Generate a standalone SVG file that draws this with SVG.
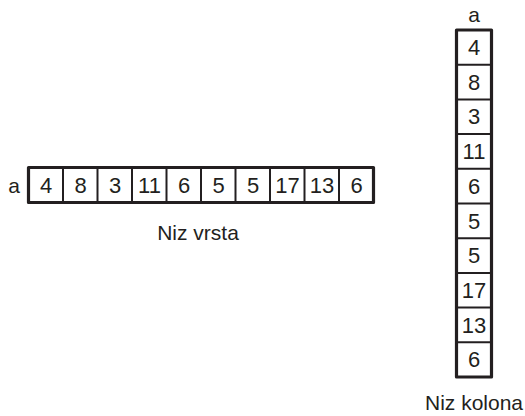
<svg xmlns="http://www.w3.org/2000/svg" width="525" height="416" viewBox="0 0 525 416">
<style>
.t{font-family:"Liberation Sans",Arial,sans-serif;font-size:21px;fill:#231f20;text-anchor:middle}
.n{font-size:22px}
.o{fill:#fff;stroke:#231f20;stroke-width:3.2;stroke-linejoin:round}
.d{stroke:#231f20;stroke-width:2}
</style>
<rect width="525" height="416" fill="#fff"/>
<g id="row">
<rect class="o" x="28.5" y="167.5" width="345" height="35"/>
<g class="d">
<line x1="63" y1="168" x2="63" y2="202"/>
<line x1="97.5" y1="168" x2="97.5" y2="202"/>
<line x1="132" y1="168" x2="132" y2="202"/>
<line x1="166.5" y1="168" x2="166.5" y2="202"/>
<line x1="201" y1="168" x2="201" y2="202"/>
<line x1="235.5" y1="168" x2="235.5" y2="202"/>
<line x1="270" y1="168" x2="270" y2="202"/>
<line x1="304.5" y1="168" x2="304.5" y2="202"/>
<line x1="339" y1="168" x2="339" y2="202"/>
</g>
<text class="t" x="14" y="193">a</text>
<text class="t n" x="46" y="193">4</text>
<text class="t n" x="80.5" y="193">8</text>
<text class="t n" x="115" y="193">3</text>
<text class="t n" x="149.5" y="193">11</text>
<text class="t n" x="184" y="193">6</text>
<text class="t n" x="218.5" y="193">5</text>
<text class="t n" x="253" y="193">5</text>
<text class="t n" x="287.5" y="193">17</text>
<text class="t n" x="322" y="193">13</text>
<text class="t n" x="356.5" y="193">6</text>
<text class="t" x="198" y="240">Niz vrsta</text>
</g>
<g id="column">
<rect class="o" x="456.5" y="30" width="35" height="347"/>
<g class="d">
<line x1="457" y1="64.7" x2="491" y2="64.7"/>
<line x1="457" y1="99.4" x2="491" y2="99.4"/>
<line x1="457" y1="134.1" x2="491" y2="134.1"/>
<line x1="457" y1="168.8" x2="491" y2="168.8"/>
<line x1="457" y1="203.5" x2="491" y2="203.5"/>
<line x1="457" y1="238.2" x2="491" y2="238.2"/>
<line x1="457" y1="272.9" x2="491" y2="272.9"/>
<line x1="457" y1="307.6" x2="491" y2="307.6"/>
<line x1="457" y1="342.3" x2="491" y2="342.3"/>
</g>
<text class="t" x="474" y="22">a</text>
<text class="t n" x="474" y="55">4</text>
<text class="t n" x="474" y="89.7">8</text>
<text class="t n" x="474" y="124.4">3</text>
<text class="t n" x="474" y="159.1">11</text>
<text class="t n" x="474" y="193.8">6</text>
<text class="t n" x="474" y="228.5">5</text>
<text class="t n" x="474" y="263.2">5</text>
<text class="t n" x="474" y="297.9">17</text>
<text class="t n" x="474" y="332.6">13</text>
<text class="t n" x="474" y="367.3">6</text>
<text class="t" x="474" y="410">Niz kolona</text>
</g>
</svg>
